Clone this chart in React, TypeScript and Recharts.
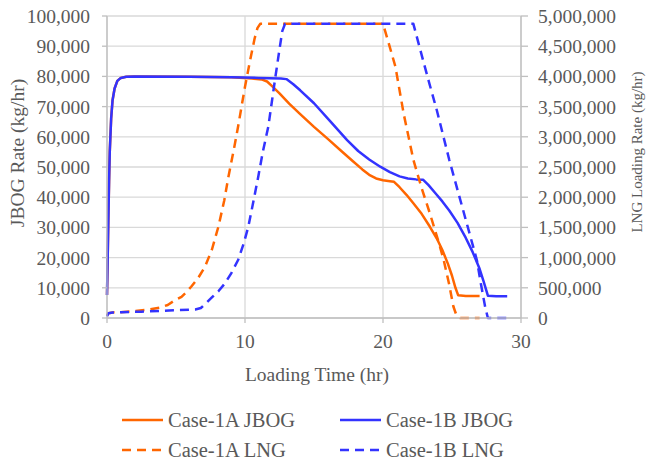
import React from 'react';
import { LineChart, Line, XAxis, YAxis, CartesianGrid, Legend, Label } from 'recharts';

// ---- Data ----
const caseAJbogTime = [0, 0.05, 0.1, 0.15, 0.2, 0.3, 0.4, 0.55, 0.75, 1.0, 1.4, 2, 6, 9, 10.5, 11.2, 11.6, 12.0, 12.5, 13.2, 14.0, 15.0, 16.0, 17.0, 17.8, 18.5, 19.0, 19.5, 20.0, 20.5, 20.8, 21.2, 21.7, 22.2, 22.8, 23.4, 23.9, 24.3, 24.7, 25.0, 25.25, 25.45, 26.0, 27.0];
const caseAJbogRate = [7600, 20000, 33000, 45000, 55000, 66000, 72000, 76000, 78500, 79500, 79900, 80000, 79900, 79700, 79300, 79000, 78300, 76600, 74400, 71000, 67500, 63300, 59300, 55200, 52000, 49200, 47400, 46200, 45600, 45300, 45100, 43300, 40800, 38000, 34500, 30200, 26300, 22500, 18000, 14000, 10000, 7500, 7300, 7300];

const caseBJbogTime = [0, 0.05, 0.1, 0.15, 0.2, 0.3, 0.4, 0.55, 0.75, 1.0, 1.4, 2, 6, 9, 11, 12.6, 13.0, 13.5, 14.0, 15.0, 16.2, 17.4, 18.2, 19.0, 19.8, 20.5, 21.2, 21.8, 22.4, 22.9, 23.3, 23.8, 24.3, 24.8, 25.4, 26.0, 26.5, 27.0, 27.3, 27.6, 28.2, 29.0];
const caseBJbogRate = [7600, 20000, 33000, 45000, 55000, 66000, 72000, 76000, 78500, 79500, 79900, 80000, 79900, 79700, 79500, 79300, 79100, 77400, 75400, 71100, 65000, 58900, 55300, 52500, 50100, 48300, 46900, 46200, 45900, 45800, 44000, 41300, 38600, 35600, 31500, 26500, 21800, 16300, 12000, 7400, 7200, 7200];

const caseALngTime = [0, 0.1, 0.4, 1.0, 2.0, 3.0, 3.8, 4.4, 4.9, 5.4, 5.8, 6.1, 6.6, 7.1, 7.6, 8.07, 8.5, 8.8, 9.2, 9.5, 10.0, 10.4, 10.7, 10.9, 11.1, 20.0, 20.4, 20.9, 21.5, 22.2, 22.8, 23.4, 24.0, 24.4, 24.8, 25.1, 25.3, 25.6, 27.0];
const caseALngRate = [40000, 80000, 92000, 97000, 115000, 138000, 170000, 215000, 290000, 350000, 440000, 518000, 660000, 849000, 1130000, 1510000, 1950000, 2340000, 2800000, 3170000, 3830000, 4300000, 4630000, 4800000, 4870000, 4870000, 4560000, 4160000, 3380000, 2620000, 2150000, 1730000, 1280000, 960000, 550000, 190000, 60000, 0, 0];

const caseBLngTime = [0, 0.1, 0.4, 1.0, 2.5, 4.5, 6.4, 6.8, 7.2, 7.6, 8.1, 8.55, 9.0, 9.5, 9.9, 10.24, 10.6, 10.96, 11.3, 11.69, 12.17, 12.5, 12.7, 12.9, 22.2, 22.9, 23.4, 23.9, 24.8, 25.8, 26.8, 27.1, 27.4, 27.6, 29.0];
const caseBLngRate = [30000, 80000, 92000, 96000, 104000, 125000, 140000, 165000, 250000, 340000, 450000, 574000, 740000, 960000, 1230000, 1510000, 1920000, 2340000, 2760000, 3170000, 3940000, 4450000, 4750000, 4870000, 4870000, 4270000, 3850000, 3440000, 2620000, 1790000, 960000, 560000, 187000, 0, 0];

const xTicks = [0, 10, 20, 30];
const leftTicks = [0, 10000, 20000, 30000, 40000, 50000, 60000, 70000, 80000, 90000, 100000];
const rightTicks = [0, 500000, 1000000, 1500000, 2000000, 2500000, 3000000, 3500000, 4000000, 4500000, 5000000];

const seriesNames = ['Case-1A JBOG', 'Case-1B JBOG', 'Case-1A LNG', 'Case-1B LNG'];

const toRows = (ts: number[], vs: number[]) => ts.map((t, i) => ({ t, v: vs[i] }));

const caseAJbog = toRows(caseAJbogTime, caseAJbogRate);
const caseBJbog = toRows(caseBJbogTime, caseBJbogRate);
const caseALng = toRows(caseALngTime, caseALngRate);
const caseBLng = toRows(caseBLngTime, caseBLngRate);

// ---- Styles ----
const FONT = '"Liberation Serif", "Times New Roman", serif';
const TEXT = '#595959';
const ORANGE = '#FF6600';
const BLUE = '#3333FF';
const AXIS = '#bfbfbf';
const GRID = '#d9d9d9';
const DASH = '9 6';
const FS = 19.5;

const fmt = (v: number) => v.toLocaleString('en-US');

const legendItems = [
  { name: seriesNames[0], color: ORANGE, dash: undefined as string | undefined, x: 122, y: 20 },
  { name: seriesNames[1], color: BLUE, dash: undefined as string | undefined, x: 340, y: 20 },
  { name: seriesNames[2], color: ORANGE, dash: DASH, x: 122, y: 50 },
  { name: seriesNames[3], color: BLUE, dash: DASH, x: 340, y: 50 },
];

const LegendContent = () => (
  <svg width={646} height={62} style={{ display: 'block' }}>
    {legendItems.map((it) => (
      <g key={it.name}>
        <line x1={it.x} x2={it.x + 41} y1={it.y} y2={it.y} stroke={it.color} strokeWidth={2.5} strokeDasharray={it.dash} />
        <text x={it.x + 46} y={it.y} dominantBaseline="central" fill={TEXT} fontSize={20.5} fontFamily={FONT}>
          {it.name}
        </text>
      </g>
    ))}
  </svg>
);

const tickStyle = { fill: TEXT, fontSize: FS, fontFamily: FONT };

export default function App() {
  return (
    <div style={{ position: 'absolute', left: 0, top: 0, width: 646, height: 462, background: '#fff', fontFamily: FONT }}>
      <LineChart width={646} height={462} margin={{ top: 16, right: 0, bottom: 0, left: 0 }}>
        <CartesianGrid yAxisId="left" stroke={GRID} strokeWidth={1.3} />
        <XAxis
          type="number"
          dataKey="t"
          domain={[0, 30]}
          ticks={xTicks}
          height={144}
          stroke={AXIS}
          strokeWidth={1.3}
          tickSize={5}
          tickMargin={11}
          tick={tickStyle}
          allowDuplicatedCategory={false}
        >
          <Label
            content={() => (
              <text x={317} y={381} textAnchor="middle" fill={TEXT} fontSize={FS} fontFamily={FONT}>
                Loading Time (hr)
              </text>
            )}
          />
        </XAxis>
        <YAxis
          yAxisId="left"
          width={107}
          domain={[0, 100000]}
          ticks={leftTicks}
          tickFormatter={fmt}
          stroke={AXIS}
          strokeWidth={1.3}
          tickSize={5}
          tickMargin={12}
          tick={tickStyle}
          interval={0}
        >
          <Label
            content={() => (
              <text x={24} y={153} transform="rotate(-90 24 153)" textAnchor="middle" fill={TEXT} fontSize={FS} fontFamily={FONT}>
                JBOG Rate (kg/hr)
              </text>
            )}
          />
        </YAxis>
        <YAxis
          yAxisId="right"
          orientation="right"
          width={125}
          domain={[0, 5000000]}
          ticks={rightTicks}
          tickFormatter={fmt}
          stroke={AXIS}
          strokeWidth={1.3}
          tickSize={7}
          tickMargin={10}
          tick={tickStyle}
          interval={0}
        >
          <Label
            content={() => (
              <text x={642} y={152} transform="rotate(-90 642 152)" textAnchor="middle" fill={TEXT} fontSize={15} fontFamily={FONT}>
                LNG Loading Rate (kg/hr)
              </text>
            )}
          />
        </YAxis>
        <Legend
          layout="horizontal"
          verticalAlign="middle"
          align="center"
          content={LegendContent}
          wrapperStyle={{ position: 'absolute', top: 400, left: 0, width: 646, height: 62 }}
        />
        <Line yAxisId="left" data={caseAJbog} dataKey="v" name={seriesNames[0]} type="linear" stroke={ORANGE} strokeWidth={2.5} strokeLinejoin="round" dot={false} activeDot={false} isAnimationActive={false} />
        <Line yAxisId="left" data={caseBJbog} dataKey="v" name={seriesNames[1]} type="linear" stroke={BLUE} strokeWidth={2.5} strokeLinejoin="round" dot={false} activeDot={false} isAnimationActive={false} />
        <Line yAxisId="right" data={caseALng} dataKey="v" name={seriesNames[2]} type="linear" stroke={ORANGE} strokeWidth={2.5} strokeLinejoin="round" strokeDasharray={DASH} dot={false} activeDot={false} isAnimationActive={false} />
        <Line yAxisId="right" data={caseBLng} dataKey="v" name={seriesNames[3]} type="linear" stroke={BLUE} strokeWidth={2.5} strokeLinejoin="round" strokeDasharray={DASH} dot={false} activeDot={false} isAnimationActive={false} />
      </LineChart>
    </div>
  );
}
